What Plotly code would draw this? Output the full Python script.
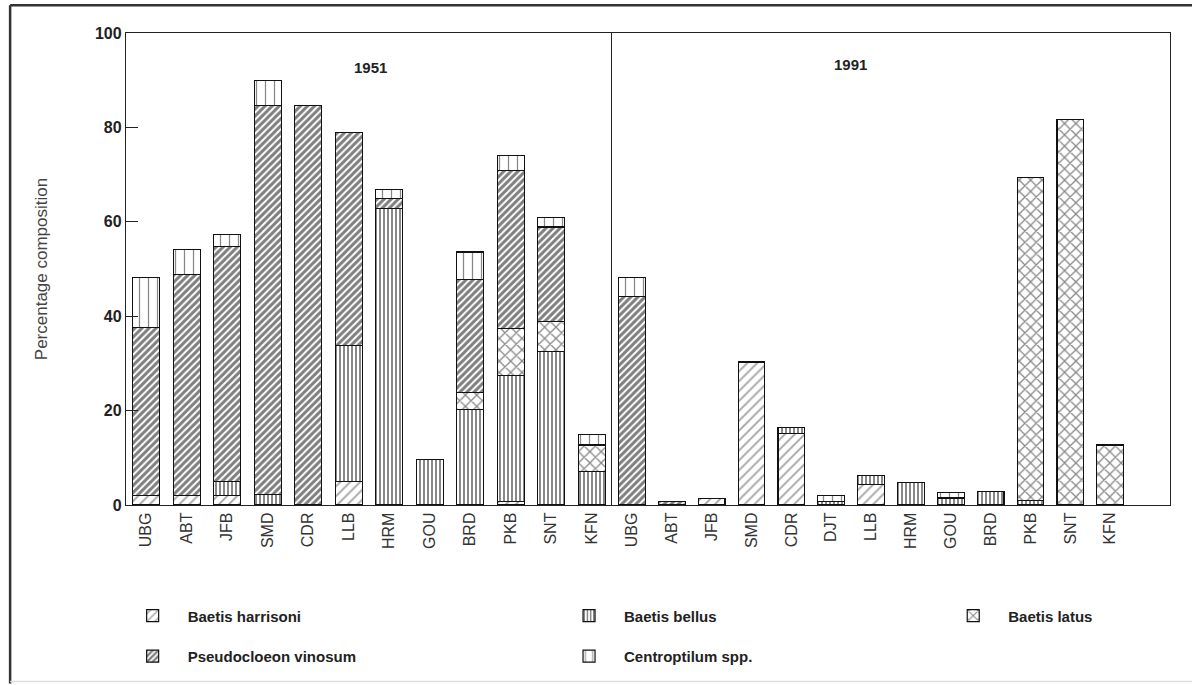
import plotly.graph_objects as go
from plotly.subplots import make_subplots

# Sampling sites surveyed in each year
sites_1951 = ["UBG", "ABT", "JFB", "SMD", "CDR", "LLB", "HRM", "GOU", "BRD", "PKB", "SNT", "KFN"]
sites_1991 = ["UBG", "ABT", "JFB", "SMD", "CDR", "DJT", "LLB", "HRM", "GOU", "BRD", "PKB", "SNT", "KFN"]

# Percentage composition per taxon, 1951
harrisoni_1951 = [2.0, 2.0, 2.0, 0, 0, 5.0, 0, 0, 0, 0.8, 0, 0]
bellus_1951 = [0, 0, 3.0, 2.2, 0, 28.8, 62.8, 9.7, 20.3, 26.7, 32.5, 7.1]
latus_1951 = [0, 0, 0, 0, 0, 0, 0, 0, 3.5, 9.9, 6.4, 5.6]
vinosum_1951 = [35.6, 46.8, 49.7, 82.5, 84.6, 45.1, 2.1, 0, 23.9, 33.4, 20.0, 0]
centroptilum_1951 = [10.6, 5.3, 2.6, 5.2, 0, 0, 2.0, 0, 5.9, 3.3, 2.0, 2.3]

# Percentage composition per taxon, 1991
harrisoni_1991 = [0, 0, 1.3, 30.3, 15.2, 0, 4.4, 0, 0, 0, 0, 0, 0]
bellus_1991 = [0, 0, 0, 0, 1.3, 0.8, 1.9, 4.8, 1.5, 2.9, 1.0, 0, 0]
latus_1991 = [0, 0, 0, 0, 0, 0, 0, 0, 0, 0, 68.4, 81.6, 12.7]
vinosum_1991 = [44.2, 0.7, 0, 0, 0, 0, 0, 0, 0, 0, 0, 0, 0]
centroptilum_1991 = [4.0, 0, 0, 0, 0, 1.2, 0, 0, 1.2, 0, 0, 0, 0]

taxa = [
    # name, 1951 values, 1991 values, fill pattern, legend box
    ("Baetis harrisoni", harrisoni_1951, harrisoni_1991,
     dict(shape="/", size=7, solidity=0.25, fgcolor="#444444", bgcolor="white"), "legend"),
    ("Baetis bellus", bellus_1951, bellus_1991,
     dict(shape="|", size=4, solidity=0.5, fgcolor="#111111", bgcolor="white"), "legend2"),
    ("Baetis latus", latus_1951, latus_1991,
     dict(shape="x", size=8, solidity=0.3, fgcolor="#111111", bgcolor="white"), "legend3"),
    ("Pseudocloeon vinosum", vinosum_1951, vinosum_1991,
     dict(shape="/", size=5, solidity=0.6, fgcolor="#000000", bgcolor="white"), "legend"),
    ("Centroptilum spp.", centroptilum_1951, centroptilum_1991,
     dict(shape="|", size=9, solidity=0.14, fgcolor="#111111", bgcolor="white"), "legend2"),
]


def nz(vals):
    return [v if v else None for v in vals]


fig = make_subplots(rows=1, cols=2, column_widths=[486, 558],
                    horizontal_spacing=0, shared_yaxes=True)

for name, v51, v91, pat, leg in taxa:
    marker = dict(color="white", pattern=pat, line=dict(color="#111111", width=1.2))
    fig.add_trace(go.Bar(x=sites_1951, y=nz(v51), name=name, marker=marker,
                         legend=leg, legendgroup=name, showlegend=True,
                         hoverinfo="skip"), row=1, col=1)
    fig.add_trace(go.Bar(x=sites_1991, y=nz(v91), name=name, marker=marker,
                         legend=leg, legendgroup=name, showlegend=False,
                         hoverinfo="skip"), row=1, col=2)

tick_font = dict(family="Liberation Sans, Arial, sans-serif", size=16, color="#333333")

fig.update_xaxes(showline=True, linecolor="#222222", linewidth=1.3, mirror=True,
                 ticks="", tickangle=-90, tickfont=tick_font, showgrid=False,
                 type="category")
fig.update_xaxes(range=[-0.5, 11.5], row=1, col=1)
fig.update_xaxes(range=[-0.5, 13.5], row=1, col=2)

fig.update_yaxes(range=[0, 100], showgrid=False, zeroline=False,
                 showline=True, linecolor="#222222", linewidth=1.3)
fig.update_yaxes(row=1, col=1, ticks="inside", ticklen=12, tickcolor="#222222",
                 tickvals=[0, 20, 40, 60, 80, 100],
                 tickfont=dict(family="Liberation Sans, Arial, sans-serif", size=16,
                               color="#222222", weight="bold"),
                 title=dict(text="Percentage composition", standoff=42,
                            font=dict(family="Liberation Sans, Arial, sans-serif",
                                      size=17, color="#444444")))
fig.update_yaxes(row=1, col=2, mirror=True, ticks="", showticklabels=False)

ann_font = dict(family="Liberation Sans, Arial, sans-serif", size=15, color="#222222",
                weight="bold")
fig.add_annotation(text="1951", xref="paper", yref="paper", x=0.2165, y=0.949,
                   showarrow=False, font=ann_font)
fig.add_annotation(text="1991", xref="paper", yref="paper", x=0.712, y=0.955,
                   showarrow=False, font=ann_font)

# Outer frame around the whole figure
frame = dict(color="#333333", width=2.5)
fig.add_shape(type="line", xref="paper", yref="paper", x0=-0.111, x1=1.03,
              y0=1.059, y1=1.059, line=frame)
fig.add_shape(type="line", xref="paper", yref="paper", x0=-0.111, x1=-0.111,
              y0=1.059, y1=-0.378, line=frame)
fig.add_shape(type="line", xref="paper", yref="paper", x0=-0.111, x1=1.03,
              y0=-0.374, y1=-0.374, line=dict(color="#dddddd", width=1.5))

legend_font = dict(family="Liberation Sans, Arial, sans-serif", size=15,
                   color="#222222", weight="bold")
legend_common = dict(orientation="v", yanchor="top", xanchor="left", y=-0.2,
                     font=legend_font, itemwidth=60, tracegroupgap=18,
                     traceorder="grouped", bgcolor="rgba(0,0,0,0)")
fig.update_layout(
    width=1192, height=685,
    margin=dict(l=126, r=22, t=33, b=180),
    paper_bgcolor="white", plot_bgcolor="white",
    barmode="stack", bargap=0.33,
    legend=dict(x=-0.008, **legend_common),
    legend2=dict(x=0.41, **legend_common),
    legend3=dict(x=0.778, **legend_common),
)

fig.write_html("out.html")
